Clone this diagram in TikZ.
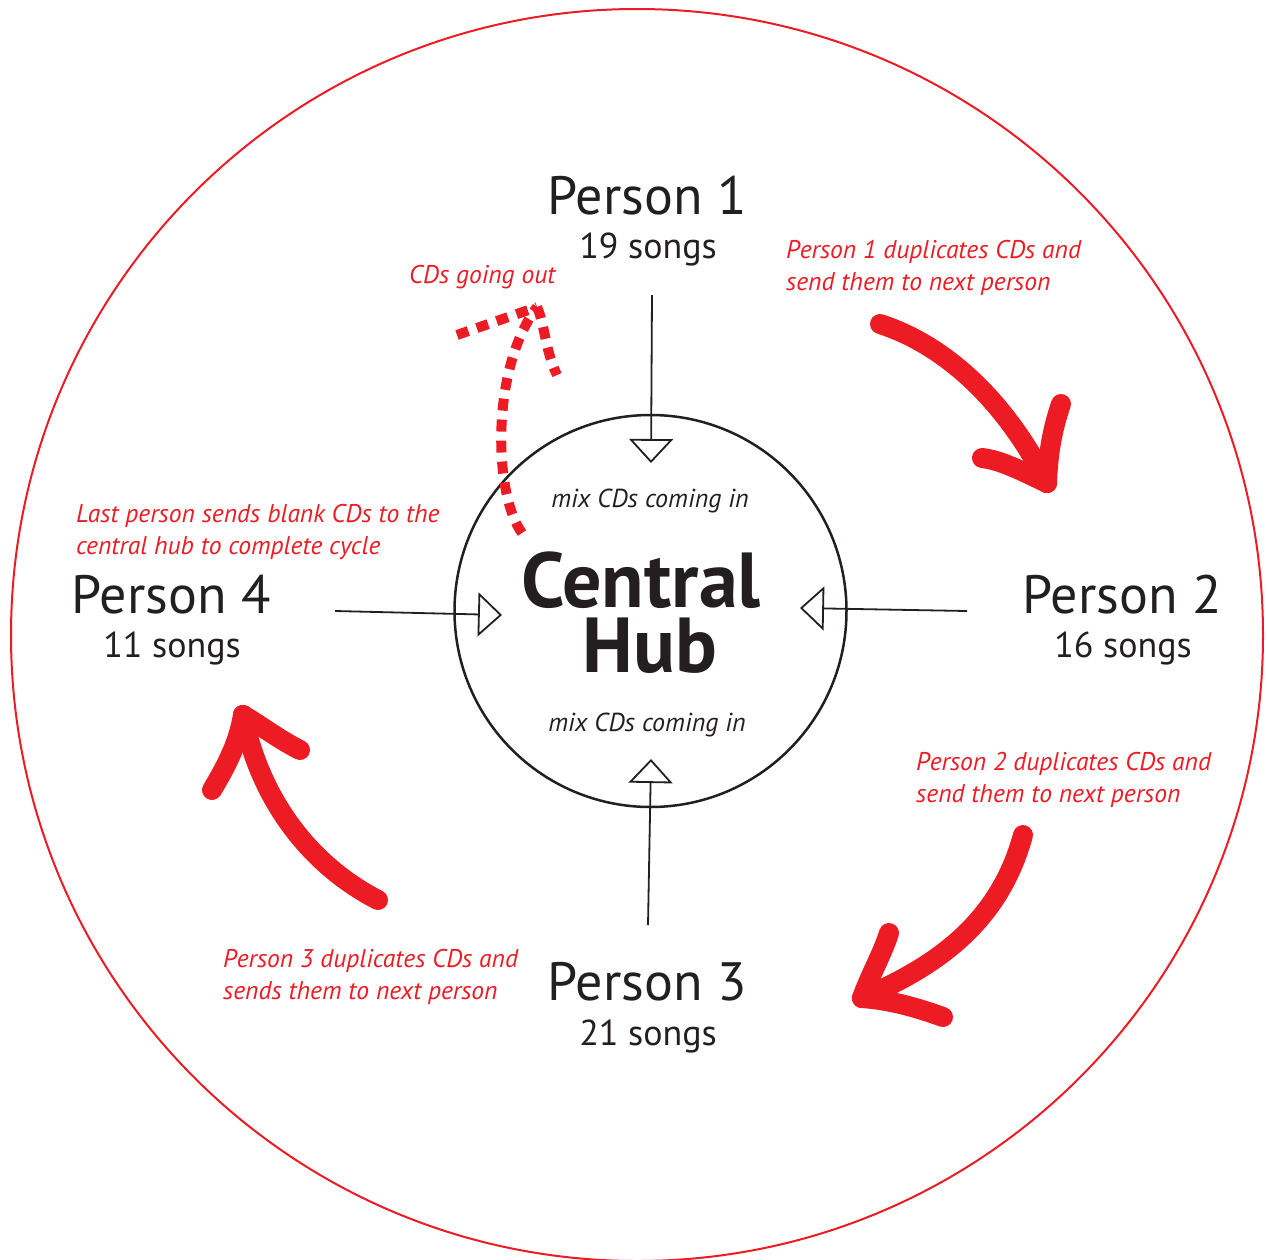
\documentclass[tikz,border=0pt]{standalone}
\usepackage{fontspec}
\setmainfont{PT Sans}
\usetikzlibrary{arrows.meta}
\definecolor{cdred}{HTML}{ED1C24}
\definecolor{ink}{HTML}{231F20}
\tikzset{
  person/.style={anchor=base, inner sep=0pt, text=ink, font=\fontsize{54}{54}\selectfont},
  songs/.style={anchor=base, inner sep=0pt, text=ink, font=\fontsize{36}{36}\selectfont},
  hubword/.style={anchor=base, inner sep=0pt, text=ink, font=\fontsize{78}{78}\selectfont\bfseries},
  note/.style={anchor=base west, inner sep=0pt, text=cdred, align=left, font=\fontsize{25.6}{32}\selectfont\itshape},
  mixlbl/.style={anchor=base, inner sep=0pt, text=ink, font=\fontsize{26}{26}\selectfont\itshape},
  feed/.style={draw=ink, line width=1.8pt, -{Triangle[open, length=24pt, width=44pt]}},
  bigarrow/.style={draw=cdred, line width=20pt, line cap=round, line join=round},
  dasharrow/.style={draw=cdred, line width=10pt, dash pattern=on 12pt off 9pt}
}
\begin{document}
\begin{tikzpicture}[x=1pt,y=-1pt]
\useasboundingbox (0,0) rectangle (1267,1259);
% outer ring
\draw[cdred, line width=2pt] (637,635) circle[radius=626pt];
% hub
\node[circle, draw=ink, line width=2.5pt, minimum size=392pt, inner sep=0pt] (hub) at (650.5,611) {};
\node[hubword] (hubt1) at (641,607) {Central};
\node[hubword] (hubt2) at (650,672) {Hub};
\node[mixlbl] (mixtop) at (650,507) {mix CDs coming in};
\node[mixlbl] (mixbot) at (647,731) {mix CDs coming in};
% persons
\node[person] (p1) at (647,214) {Person 1};
\node[songs] (p1s) at (648,258) {19 songs};
\node[person] (p2) at (1122,613) {Person 2};
\node[songs] (p2s) at (1123,657) {16 songs};
\node[person] (p3) at (647,1000) {Person 3};
\node[songs] (p3s) at (648,1045) {21 songs};
\node[person] (p4) at (171,613) {Person 4};
\node[songs] (p4s) at (172,657) {11 songs};
% feed lines
\coordinate (f1a) at (652,295); \coordinate (f1b) at (651,463);
\coordinate (f2a) at (967,611); \coordinate (f2b) at (800,608);
\coordinate (f3a) at (648,925); \coordinate (f3b) at (651,759);
\coordinate (f4a) at (335,611); \coordinate (f4b) at (502,615);
\draw[feed] (f1a) -- (f1b);
\draw[feed] (f2a) -- (f2b);
\draw[feed] (f3a) -- (f3b);
\draw[feed] (f4a) -- (f4b);
% notes (base = baseline of last line)
\node[note] (n1) at (786,290) {Person 1 duplicates CDs and\\send them to next person};
\node[note] (n2) at (916,802) {Person 2 duplicates CDs and\\send them to next person};
\node[note] (n3) at (223,999) {Person 3 duplicates CDs and\\sends them to next person};
\node[note] (n4) at (76,554) {Last person sends blank CDs to the\\central hub to complete cycle};
\node[note] (nout) at (409,283) {CDs going out};
% big red arrows
\coordinate (a1s) at (880,324); \coordinate (a1t) at (1047,483);
\draw[bigarrow] (a1s) .. controls (945,345) and (1005,400) .. (a1t);
\draw[bigarrow] (1061,404) .. controls (1052,430) and (1048,455) .. (a1t);
\draw[bigarrow] (982,458) .. controls (1000,460) and (1020,470) .. (a1t);
\coordinate (a2s) at (1023,835); \coordinate (a2t) at (862,998);
\draw[bigarrow] (a2s) .. controls (1000,920) and (940,965) .. (a2t);
\draw[bigarrow] (889,933) .. controls (882,955) and (870,975) .. (a2t);
\draw[bigarrow] (943,1017) .. controls (915,1007) and (890,1000) .. (a2t);
\coordinate (a3s) at (378,900); \coordinate (a3t) at (243,715);
\draw[bigarrow] (a3s) .. controls (310,865) and (260,800) .. (a3t);
\draw[bigarrow] (300,750) .. controls (280,740) and (260,725) .. (a3t);
\draw[bigarrow] (212,790) .. controls (225,768) and (238,745) .. (a3t);
% dashed arrow (CDs going out)
\coordinate (d0) at (522,533); \coordinate (dt) at (537,307);
\draw[dasharrow] (d0) .. controls (494,495) and (490,370) .. (dt);
\draw[dasharrow] (457,335) -- (dt);
\draw[dasharrow] (dt) .. controls (545,325) and (545,350) .. (557,375);
\end{tikzpicture}
\end{document}
